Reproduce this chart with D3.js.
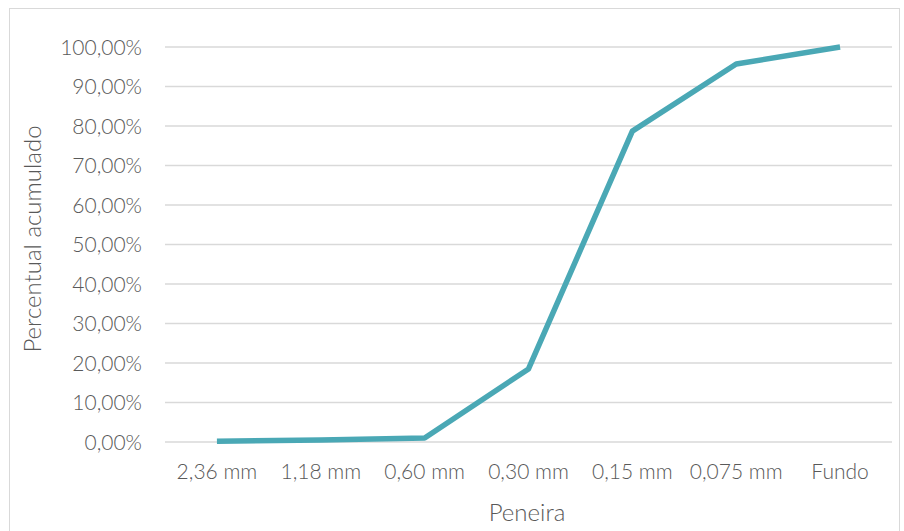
<!DOCTYPE html>
<html>
<head>
<meta charset="utf-8">
<script src="https://cdn.jsdelivr.net/npm/d3@7"></script>
<style>
  body { margin: 0; background: #fff; }
  text { font-family: Lato, "Open Sans", sans-serif; fill: #595959; font-weight: 300; }
</style>
</head>
<body>
<div id="chart"></div>
<script>
// data
const sieves = ["2,36 mm", "1,18 mm", "0,60 mm", "0,30 mm", "0,15 mm", "0,075 mm", "Fundo"];
const cumulative = [0.002, 0.005, 0.01, 0.185, 0.787, 0.957, 1.0];
const yTicks = [0, 0.1, 0.2, 0.3, 0.4, 0.5, 0.6, 0.7, 0.8, 0.9, 1.0];

const width = 904, height = 531;
const margins = { top: 47, right: 12, bottom: 89, left: 165 };

const svg = d3.select("#chart").append("svg")
  .attr("width", width)
  .attr("height", height);

// outer chart frame
svg.append("rect")
  .attr("x", 9.5).attr("y", 8.5)
  .attr("width", 890).attr("height", 530)
  .attr("fill", "none")
  .attr("stroke", "#d9d9d9");

const x = d3.scaleBand()
  .domain(sieves)
  .range([margins.left, width - margins.right]);

const y = d3.scaleLinear()
  .domain([0, 1])
  .range([height - margins.bottom, margins.top]);

// gridlines
svg.append("g")
  .selectAll("line")
  .data(yTicks)
  .enter()
  .append("line")
  .attr("x1", margins.left)
  .attr("x2", width - margins.right)
  .attr("y1", d => y(d))
  .attr("y2", d => y(d))
  .attr("stroke", "#d9d9d9")
  .attr("stroke-width", 1.3);

const pct = d => (d * 100).toFixed(2).replace(".", ",") + "%";

// y axis labels
const yAxis = svg.append("g")
  .attr("transform", `translate(${margins.left - 23},0)`)
  .call(d3.axisLeft(y).tickValues(yTicks).tickFormat(pct).tickSize(0));
yAxis.select(".domain").remove();
yAxis.selectAll("text")
  .attr("font-size", 21)
  .attr("x", 0)
  .attr("dy", "0.35em")
  .style("font-family", "Lato, 'Open Sans', sans-serif")
  .attr("fill", "#595959");

// x axis labels
const xAxis = svg.append("g")
  .attr("transform", `translate(0,${height - margins.bottom})`)
  .call(d3.axisBottom(x).tickSize(0));
xAxis.select(".domain").remove();
xAxis.selectAll("text")
  .attr("font-size", 21)
  .attr("y", 37)
  .attr("dy", 0)
  .style("font-family", "Lato, 'Open Sans', sans-serif")
  .attr("fill", "#595959");

// line
const line = d3.line()
  .x((d, i) => x(sieves[i]) + x.bandwidth() / 2)
  .y(d => y(d));

svg.append("path")
  .datum(cumulative)
  .attr("d", line)
  .attr("fill", "none")
  .attr("stroke", "#4aa8b5")
  .attr("stroke-width", 5.5)
  .attr("stroke-linejoin", "round");

// axis titles
svg.append("text")
  .attr("x", 527)
  .attr("y", 521)
  .attr("text-anchor", "middle")
  .attr("font-size", 24)
  .text("Peneira");

svg.append("text")
  .attr("transform", `translate(41,239) rotate(-90)`)
  .attr("text-anchor", "middle")
  .attr("font-size", 24)
  .text("Percentual acumulado");
</script>
</body>
</html>
